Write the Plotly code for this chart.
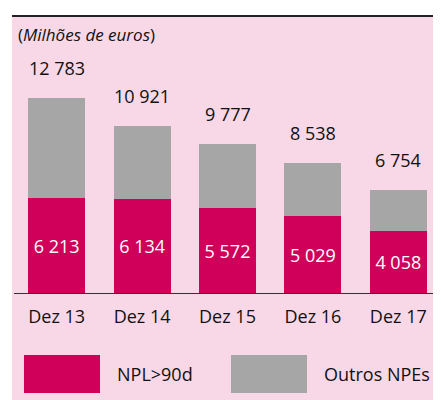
import plotly.graph_objects as go

categories = ["Dez 13", "Dez 14", "Dez 15", "Dez 16", "Dez 17"]
npl_90d = [6213, 6134, 5572, 5029, 4058]
totals = [12783, 10921, 9777, 8538, 6754]
outros_npes = [t - n for t, n in zip(totals, npl_90d)]

MAGENTA = "#D0005A"
GREY = "#A6A6A6"
PINK = "#F8D8E7"
FONT = "Open Sans"
TXT = "#111111"


def fmt(v):
    return f"{v:,}".replace(",", " ")


fig = go.Figure()
fig.add_trace(go.Bar(
    x=categories, y=npl_90d, name="NPL>90d",
    marker=dict(color=MAGENTA, line=dict(width=0)),
    text=[fmt(v) for v in npl_90d], textposition="inside",
    insidetextanchor="middle", constraintext="none",
    textfont=dict(color="white", size=18, family=FONT),
    hoverinfo="skip",
))
fig.add_trace(go.Bar(
    x=categories, y=outros_npes, name="Outros NPEs",
    marker=dict(color=GREY, line=dict(width=0)),
    hoverinfo="skip",
))

for c, t in zip(categories, totals):
    fig.add_annotation(x=c, y=t, text=fmt(t), showarrow=False, yshift=30,
                       font=dict(size=18, family=FONT, color=TXT))

# background panel and top rule
fig.add_shape(type="rect", xref="paper", yref="paper", x0=-0.0047, x1=1.0,
              y0=-0.39, y1=1.0, fillcolor=PINK, line=dict(width=0), layer="below")
fig.add_shape(type="line", xref="paper", yref="paper", x0=-0.0047, x1=1.0,
              y0=1.004, y1=1.004, line=dict(color="#222222", width=2))

fig.add_annotation(xref="paper", yref="paper", x=0.0047, y=0.9348,
                   xanchor="left", yanchor="middle", showarrow=False,
                   text="(<i>Milhões de euros</i>)",
                   font=dict(size=17, family=FONT, color=TXT))

# legend
legend_items = [("NPL>90d", MAGENTA, 0.0234, 0.2014, 0.2365),
                ("Outros NPEs", GREY, 0.5082, 0.6862, 0.7213)]
for label, col, x0, x1, tx in legend_items:
    fig.add_shape(type="rect", xref="paper", yref="paper", x0=x0, x1=x1,
                  y0=-0.3623, y1=-0.2246, fillcolor=col, line=dict(width=0))
    fig.add_annotation(xref="paper", yref="paper", x=tx, y=-0.2935,
                       xanchor="left", yanchor="middle", showarrow=False,
                       text=label, font=dict(size=18, family=FONT, color=TXT))

fig.update_layout(
    width=433, height=392,
    margin=dict(l=6, r=0, t=9, b=107),
    barmode="stack", bargap=0.333,
    paper_bgcolor="white", plot_bgcolor="rgba(0,0,0,0)",
    showlegend=False,
    font=dict(family=FONT, color=TXT),
    xaxis=dict(showline=True, linecolor="#333333", linewidth=1, ticks="",
               showgrid=False, tickfont=dict(size=18, family=FONT, color=TXT),
               ticklabelstandoff=7, fixedrange=True),
    yaxis=dict(range=[0, 18100], visible=False, showgrid=False, fixedrange=True),
)

fig.write_html("out.html")
